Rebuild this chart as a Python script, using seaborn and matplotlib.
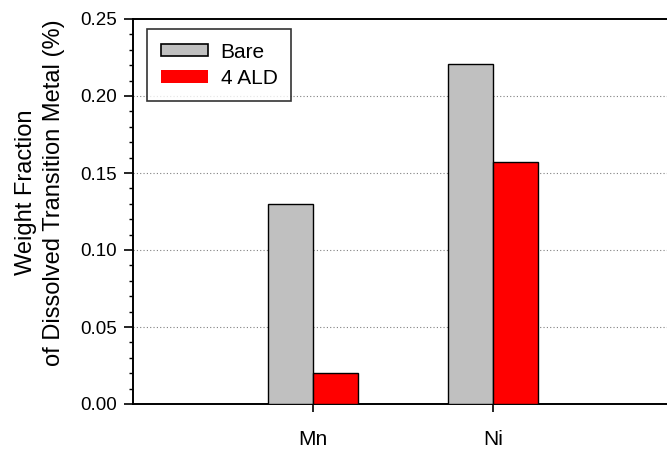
import matplotlib
matplotlib.use("Agg")
import matplotlib.pyplot as plt
from matplotlib.patches import Patch
from matplotlib.ticker import MultipleLocator, FormatStrFormatter
import pandas as pd
import seaborn as sns

metals = ["Mn", "Ni"]
bare = [0.130, 0.221]
ald = [0.020, 0.157]
series = ["Bare", "4 ALD"]
colors = ["#c0c0c0", "#ff0000"]

df = pd.DataFrame({
    "metal": metals * 2,
    "value": bare + ald,
    "coating": [series[0]] * len(metals) + [series[1]] * len(metals),
})

sns.set_style("white")
plt.rcParams["font.family"] = ["Liberation Sans", "DejaVu Sans"]
plt.rcParams["text.color"] = "black"
plt.rcParams["axes.labelcolor"] = "black"
plt.rcParams["xtick.color"] = "black"
plt.rcParams["ytick.color"] = "black"

fig = plt.figure(figsize=(6.67, 4.49), dpi=100)
ax = fig.add_axes([133 / 667, 1 - 404 / 449, 540 / 667, 385 / 449])

sns.barplot(data=df, x="metal", y="value", hue="coating", order=metals,
            hue_order=series, palette=colors, width=0.5, ax=ax,
            edgecolor="black", linewidth=1.0, saturation=1, legend=False,
            zorder=3)

ax.set_xlim(-1, 2)
ax.set_ylim(0, 0.25)
ax.yaxis.set_major_locator(MultipleLocator(0.05))
ax.yaxis.set_minor_locator(MultipleLocator(0.01))
ax.yaxis.set_major_formatter(FormatStrFormatter("%.2f"))

for y in [0.05, 0.10, 0.15, 0.20]:
    ax.axhline(y, color="#808080", linestyle=(0, (1, 2)), linewidth=0.8, zorder=1)

for side in ["left", "bottom", "top"]:
    ax.spines[side].set_visible(True)
    ax.spines[side].set_color("black")
    ax.spines[side].set_linewidth(1.4)
ax.spines["right"].set_visible(False)

ax.tick_params(axis="y", which="major", direction="out", length=6.5, width=1.2,
               labelsize=13.5, left=True, pad=5)
ax.tick_params(axis="y", which="minor", direction="out", length=3, width=1.0,
               left=True)
ax.tick_params(axis="x", which="major", direction="out", length=6, width=1.2,
               labelsize=15, bottom=True, pad=13)

ax.set_xlabel("")
ax.set_ylabel("Weight Fraction\nof Dissolved Transition Metal (%)", fontsize=17,
              linespacing=1.38)
ax.yaxis.set_label_coords(-0.126, 0.55)

handles = [Patch(facecolor=colors[0], edgecolor="black", linewidth=1.2),
           Patch(facecolor=colors[1], edgecolor="none")]
leg = ax.legend(handles, series, loc="upper left", bbox_to_anchor=(0.026, 0.974),
                fontsize=15, frameon=True, fancybox=False, edgecolor="black",
                handlelength=2.3, handleheight=0.53, borderpad=0.65,
                labelspacing=0.35, handletextpad=0.58, borderaxespad=0)
leg.get_frame().set_linewidth(1.2)
leg.set_zorder(5)

fig.savefig("out.png", dpi=100)
